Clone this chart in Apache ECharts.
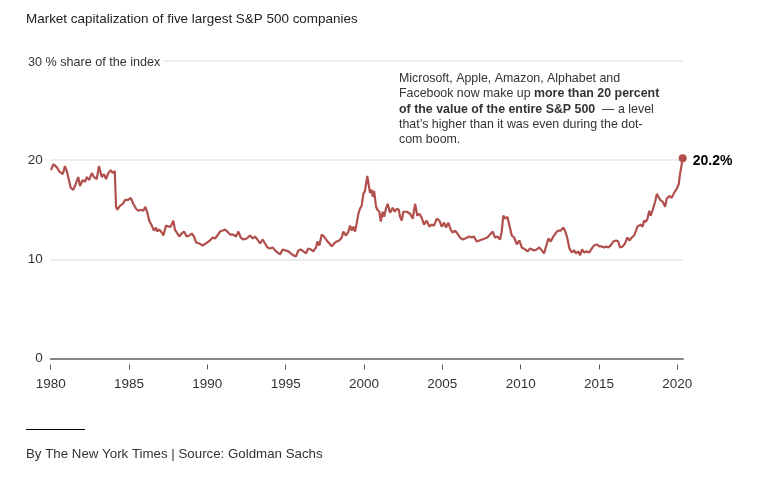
<!DOCTYPE html>
<html>
<head>
<meta charset="utf-8">
<script src="https://cdn.jsdelivr.net/npm/echarts@6/dist/echarts.min.js"></script>
<style>
html,body{margin:0;padding:0;background:#fff;}
#chart{width:758px;height:482px;}
</style>
</head>
<body>
<div id="chart"></div>
<script>
var titleText = 'Market capitalization of five largest S&P 500 companies';
var sourceText = 'By The New York Times | Source: Goldman Sachs';
var yUnitLabel = '30 % share of the index';
var tickYears = [1980, 1985, 1990, 1995, 2000, 2005, 2010, 2015, 2020];

var years = [
1980.02,1980.17,1980.38,1980.59,1980.77,1980.91,1981.06,1981.28,1981.44,1981.62,1981.76,1981.87,
1982.04,1982.19,1982.30,1982.46,1982.62,1982.76,1982.94,1983.08,1983.26,1983.40,1983.53,1983.68,1983.83,1983.96,
1984.09,1984.17,1984.25,1984.42,1984.60,1984.76,1984.95,1985.11,1985.27,1985.45,1985.59,1985.75,1985.91,
1986.04,1986.17,1986.29,1986.45,1986.59,1986.72,1986.80,1986.93,1987.09,1987.19,1987.36,1987.51,1987.66,1987.83,1987.93,
1988.04,1988.21,1988.36,1988.51,1988.68,1988.85,1989.00,1989.15,1989.28,1989.49,1989.70,1989.91,
1990.17,1990.34,1990.49,1990.64,1990.81,1990.98,1991.13,1991.27,1991.45,1991.66,1991.83,1991.98,
1992.13,1992.30,1992.51,1992.72,1992.90,1993.04,1993.19,1993.36,1993.53,1993.68,1993.83,
1994.00,1994.17,1994.32,1994.47,1994.64,1994.81,1994.98,1995.17,1995.32,1995.49,1995.66,1995.81,1995.96,
1996.13,1996.30,1996.44,1996.60,1996.76,1996.94,1997.02,1997.15,1997.30,1997.45,1997.62,1997.79,1997.94,
1998.09,1998.26,1998.42,1998.58,1998.68,1998.85,1999.00,1999.11,1999.22,1999.32,1999.43,1999.53,1999.64,1999.74,1999.85,1999.96,
2000.06,2000.21,2000.38,2000.49,2000.56,2000.64,2000.77,2000.85,2000.98,2001.07,2001.19,2001.28,2001.40,2001.51,2001.66,2001.83,2001.96,
2002.09,2002.22,2002.30,2002.41,2002.51,2002.73,2002.94,2003.11,2003.26,2003.40,2003.53,2003.68,2003.83,
2004.00,2004.17,2004.32,2004.47,2004.64,2004.81,2004.96,2005.11,2005.23,2005.38,2005.53,2005.66,2005.81,2005.96,
2006.13,2006.30,2006.45,2006.56,2006.72,2006.88,2007.02,2007.19,2007.36,2007.53,2007.72,2007.87,
2008.04,2008.22,2008.36,2008.51,2008.68,2008.79,2008.89,2009.02,2009.15,2009.28,2009.43,2009.58,2009.75,2009.91,
2010.07,2010.28,2010.43,2010.60,2010.71,2010.85,2011.02,2011.19,2011.34,2011.49,2011.62,2011.77,2011.92,
2012.08,2012.26,2012.40,2012.56,2012.72,2012.85,2012.98,2013.11,2013.26,2013.41,2013.53,2013.68,2013.79,2013.92,
2014.04,2014.22,2014.38,2014.54,2014.68,2014.86,2015.02,2015.17,2015.32,2015.45,2015.60,2015.75,2015.91,
2016.09,2016.23,2016.34,2016.51,2016.66,2016.81,2016.94,2017.09,2017.24,2017.36,2017.45,2017.57,2017.66,2017.79,2017.87,
2018.00,2018.09,2018.21,2018.30,2018.43,2018.58,2018.69,2018.79,2018.90,2019.07,2019.22,2019.32,2019.49,2019.64,2019.79,2019.96,
2020.09,2020.17,2020.26,2020.34
];

var shares = [
19.0,19.6,19.3,18.8,18.6,19.4,18.7,17.2,17.0,17.7,18.3,17.4,
18.0,17.8,18.3,18.0,18.7,18.3,18.1,19.4,18.3,18.6,18.1,18.7,19.0,18.7,
18.9,15.3,15.0,15.4,15.6,16.0,16.0,16.2,15.6,15.1,14.9,15.0,14.9,
15.3,14.7,13.9,13.4,12.9,13.2,12.8,13.0,12.7,12.4,13.4,13.3,13.3,13.9,13.0,
13.1,12.3,12.6,12.8,12.3,12.4,12.6,12.3,11.7,11.6,11.4,11.6,
11.9,12.2,12.1,12.4,12.8,12.9,13.0,12.8,12.5,12.5,12.3,12.8,
12.2,12.0,12.1,12.4,12.1,12.3,12.0,11.6,12.0,11.6,11.2,
11.1,11.2,10.9,10.7,10.5,11.0,10.9,10.8,10.6,10.4,10.3,10.9,11.0,
10.8,10.6,11.1,11.0,10.8,11.2,11.8,11.4,12.5,12.3,11.9,11.6,11.3,
11.6,11.8,11.9,12.2,12.8,12.4,12.8,13.4,12.9,13.3,12.8,13.6,14.6,15.1,15.4,16.6,
16.9,18.4,16.7,17.0,16.3,16.9,15.3,15.0,14.8,13.8,14.8,14.3,15.1,15.6,14.7,15.2,14.8,
15.1,15.0,14.3,13.9,14.8,14.8,14.6,14.1,15.6,14.4,14.6,14.2,13.5,
13.9,13.3,13.5,13.4,14.1,13.9,13.3,13.7,13.2,13.7,13.0,12.7,12.9,12.6,
12.2,12.0,12.1,11.9,12.3,12.2,12.3,11.8,11.9,12.0,12.1,12.2,
12.5,12.8,12.2,12.3,12.0,12.8,14.4,14.1,14.3,13.4,12.4,12.2,11.5,11.9,
11.2,11.0,10.8,11.1,11.1,10.9,11.0,11.2,10.9,10.6,11.3,12.1,11.8,
12.3,12.7,12.9,12.9,13.2,12.8,12.1,11.1,10.7,10.9,10.6,10.8,10.4,11.0,
10.7,10.8,10.7,11.1,11.4,11.5,11.3,11.3,11.2,11.3,11.2,11.4,11.8,
11.9,11.8,11.2,11.3,11.6,12.2,11.9,12.2,12.4,12.9,13.3,13.1,13.5,13.3,13.9,
13.8,14.1,14.9,14.4,15.0,15.8,16.6,16.5,16.0,15.8,15.3,16.1,16.4,16.2,16.7,17.1,
17.6,18.6,19.4,20.2
];

var lineData = years.map(function (y, i) { return [y, shares[i]]; });
var lastPoint = lineData[lineData.length - 1];

var FONT = '"Liberation Sans", Arial, Helvetica, sans-serif';
var chart = echarts.init(document.getElementById('chart'), null, {renderer: 'canvas'});

var xCommon = {
  type: 'value', min: 1980, max: 2020.36, splitLine: {show: false}
};

chart.setOption({
  animation: false,
  backgroundColor: '#ffffff',
  grid: {left: 50.7, right: 75, top: 61, bottom: 123.5, containLabel: false},
  xAxis: [
    Object.assign({}, xCommon, {
      position: 'bottom',
      axisLine: {show: true, lineStyle: {color: '#888888', width: 2}},
      axisTick: {show: false},
      axisLabel: {show: false}
    }),
    Object.assign({}, xCommon, {
      position: 'bottom',
      offset: 6,
      axisLine: {show: false},
      axisTick: {show: true, length: 5, customValues: tickYears, lineStyle: {color: '#555555', width: 1}},
      axisLabel: {show: true, customValues: tickYears, margin: 13, color: '#333333', fontSize: 13.5, fontFamily: FONT,
        formatter: function (v) { return String(v); }}
    })
  ],
  yAxis: {
    type: 'value', min: 0, max: 30, interval: 10,
    axisLine: {show: false}, axisTick: {show: false},
    splitLine: {show: true, lineStyle: {color: '#e6e6e6', width: 1.5}},
    axisLabel: {
      color: '#333333', fontSize: 13.5, fontFamily: FONT, margin: 8, padding: [7, 0, 0, 0],
      formatter: function (v) { return v === 30 ? '' : String(v); }
    }
  },
  series: [
    {
      type: 'line', xAxisIndex: 0, data: lineData, showSymbol: false,
      lineStyle: {color: '#b04f4c', width: 2.2}, itemStyle: {color: '#b04f4c'}, z: 3
    },
    {
      type: 'scatter', xAxisIndex: 0, data: [lastPoint], symbolSize: 8,
      itemStyle: {color: '#b04f4c', opacity: 1}, z: 4,
      label: {
        show: true, position: 'right', distance: 6, offset: [0, 3],
        formatter: function (p) { return p.value[1].toFixed(1) + '%'; },
        color: '#000000', fontSize: 14, fontWeight: 'bold', fontFamily: FONT
      }
    }
  ],
  graphic: [
    {type: 'text', left: 26, top: 13, style: {text: titleText, fill: '#222222', font: '13.45px ' + FONT}},
    {type: 'text', left: 28, top: 54.5, z: 10, style: {text: yUnitLabel, fill: '#333333', font: '12.6px ' + FONT,
      backgroundColor: '#ffffff', padding: [2, 3, 2, 0]}},
    {type: 'text', left: 399, top: 71, z: 10, style: {
      text: 'Microsoft, Apple, Amazon, Alphabet and\nFacebook now make up {b|more than 20 percent}\n{b|of the value of the entire S&P 500 } \u2014 a level\nthat\u2019s higher than it was even during the dot-\ncom boom.',
      fill: '#333333', font: '12.4px ' + FONT, lineHeight: 15.25,
      rich: {b: {fontWeight: 'bold', fill: '#333333', fontSize: 12.4, fontFamily: FONT, lineHeight: 15.25}}
    }},
    {type: 'line', shape: {x1: 26, y1: 429.5, x2: 85, y2: 429.5}, style: {stroke: '#000000', lineWidth: 1}},
    {type: 'text', left: 26, top: 448, style: {text: sourceText, fill: '#333333', font: '13.3px ' + FONT}}
  ]
});
</script>
</body>
</html>
